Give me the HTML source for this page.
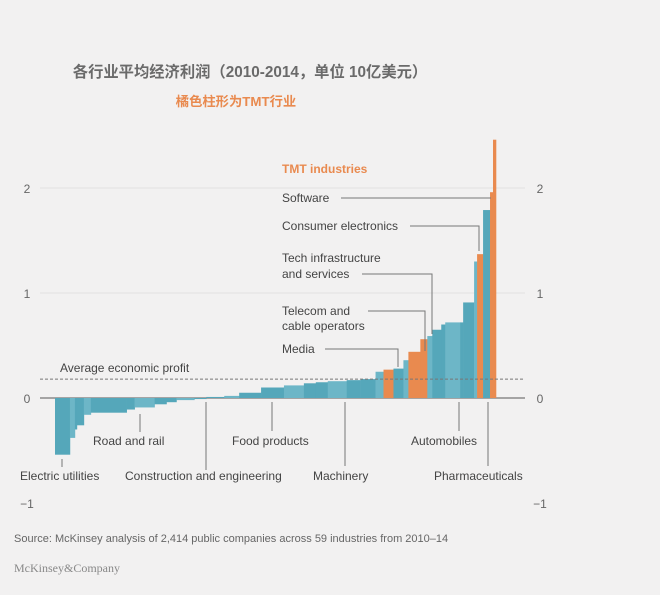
<!DOCTYPE html>
<html><head><meta charset="utf-8"><style>
html,body{margin:0;padding:0;background:#f2f1f1;}
body{width:660px;height:590px;overflow:hidden;font-family:"Liberation Sans","Noto Sans CJK SC",sans-serif;}
</style></head><body>
<svg id="chart" width="660" height="590" xmlns="http://www.w3.org/2000/svg" font-family="Liberation Sans, Noto Sans CJK SC, sans-serif">
<rect width="660" height="590" fill="#f2f1f1"/>
<text x="250" y="77" text-anchor="middle" font-size="15.3" font-weight="bold" fill="#6a6a6a">各行业平均经济利润（2010-2014，单位 10亿美元）</text>
<text x="236" y="106" text-anchor="middle" font-size="13.3" font-weight="bold" fill="#e98a4f">橘色柱形为TMT行业</text>
<g id="grid"></g>
<g id="bars"></g>
<g id="annot"></g>
<text x="14" y="542" font-size="11" fill="#666">Source: McKinsey analysis of 2,414 public companies across 59 industries from 2010–14</text>
<text x="14" y="572" font-size="12" fill="#888" font-family="Liberation Serif, serif">McKinsey&amp;Company</text>
</svg>
<script>
const barWidths=[15,5,2,7,7,36,8,20,12,10,18,12,18,15,22,23,20,12,12,19,14,15,8,10,10,5,12,7,5,9,4,15,3,11,3,6,7,3,3];
const barValues=[-0.54,-0.38,-0.30,-0.26,-0.16,-0.14,-0.11,-0.09,-0.06,-0.04,-0.02,-0.01,0.01,0.02,0.05,0.10,0.12,0.14,0.15,0.16,0.17,0.18,0.25,0.27,0.28,0.36,0.44,0.56,0.59,0.65,0.70,0.72,0.72,0.91,1.30,1.37,1.79,1.96,2.46];
const barTMT=[0,0,0,0,0,0,0,0,0,0,0,0,0,0,0,0,0,0,0,0,0,0,0,1,0,0,1,1,0,0,0,0,0,0,0,1,0,1,1];
const yTicks=[-1,0,1,2];
const avgProfit=0.18;
const NS="http://www.w3.org/2000/svg";
const X0=55,X1=496,Y0=398,PU=105;
const total=barWidths.reduce((a,b)=>a+b,0);
const xs=v=>X0+(X1-X0)*v/total;
const ys=v=>Y0-v*PU;
function mk(tag,attrs,parent){const e=document.createElementNS(NS,tag);for(const k in attrs)e.setAttribute(k,attrs[k]);parent.appendChild(e);return e;}
const grid=document.getElementById('grid'),bars=document.getElementById('bars'),annot=document.getElementById('annot');
yTicks.forEach(t=>{
  if(t!==0&&t!==-1){const l=mk('line',{x1:40,x2:525,y1:ys(t),y2:ys(t),stroke:'#e2e1e1','stroke-width':1},grid);
  
  }
  const lab=t===-1?'−1':String(t);
  const a=mk('text',{x:27,y:ys(t)+5,'text-anchor':'middle','font-size':12,fill:'#666'},grid);a.textContent=lab;
  
  
  const b=mk('text',{x:540,y:ys(t)+5,'text-anchor':'middle','font-size':12,fill:'#666'},grid);b.textContent=lab;
  
  
});
let cum=0;
barValues.forEach((v,i)=>{
  const x=xs(cum),w=xs(cum+barWidths[i])-x;cum+=barWidths[i];
  const y=Math.min(ys(v),Y0),h=Math.abs(ys(v)-Y0);
  const fill=barTMT[i]?'#e98a4f':(i%3===1?'#6db6c7':'#55a7ba');
  const r=mk('rect',{x:x,y:y,width:w+0.3,height:h,fill:fill},bars);
  
  
});
const z=mk('line',{x1:40,x2:525,y1:Y0,y2:Y0,stroke:'#777','stroke-width':1.2},grid);


const av=mk('line',{x1:40,x2:525,y1:ys(avgProfit),y2:ys(avgProfit),stroke:'#777','stroke-width':1,'stroke-dasharray':'3,2'},annot);


function txt(s,x,y,name,opt){const t=mk('text',Object.assign({x:x,y:y,'font-size':12,fill:'#444'},opt||{}),annot);t.textContent=s;

return t;}
function line(pts,name){const p=mk('polyline',{points:pts,fill:'none',stroke:'#777','stroke-width':1},annot);

}
txt('Average economic profit',60,372,'average-label');
txt('TMT industries',282,173,'tmt-legend',{fill:'#e98a4f','font-weight':'bold'});
txt('Software',282,202,'software-label');line('341,198 491,198','software-leader');
txt('Consumer electronics',282,230,'consumer-electronics-label');line('410,226 479,226 479,251','consumer-leader');
txt('Tech infrastructure',282,262,'tech-infra-label');txt('and services',282,278,'tech-infra-label-2');line('362,274 432,274 432,334','tech-leader');
txt('Telecom and',282,315,'telecom-label');txt('cable operators',282,330,'telecom-label-2');line('368,311 425,311 425,351','telecom-leader');
txt('Media',282,353,'media-label');line('325,349 398,349 398,367','media-leader');
txt('Road and rail',93,445,'road-rail-label');line('140,414 140,432','road-rail-tick');
txt('Electric utilities',20,480,'electric-utilities-label');line('62,459 62,467','electric-tick');
txt('Construction and engineering',125,480,'construction-label');line('206,402 206,470','construction-tick');
txt('Food products',232,445,'food-label');line('272,402 272,431','food-tick');
txt('Machinery',313,480,'machinery-label');line('345,402 345,466','machinery-tick');
txt('Automobiles',411,445,'automobiles-label');line('459,402 459,431','automobiles-tick');
txt('Pharmaceuticals',434,480,'pharma-label');line('488,402 488,466','pharma-tick');
</script>
</body></html>
